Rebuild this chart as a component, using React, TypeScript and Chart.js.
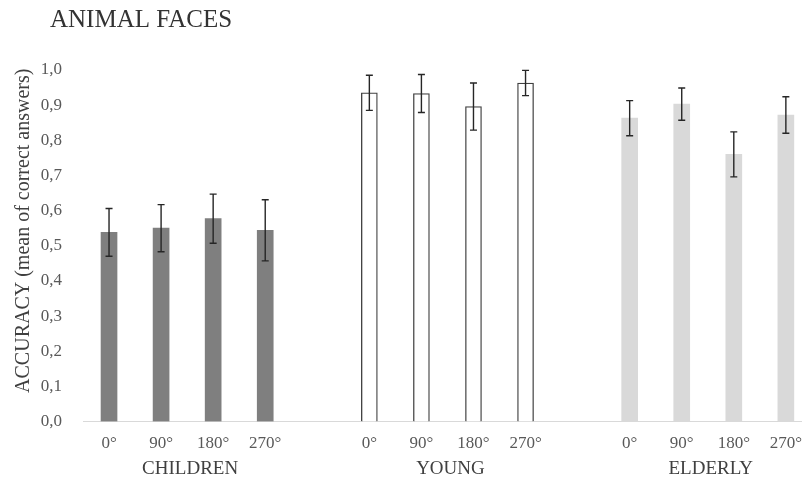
import React, { useEffect, useRef } from 'react';
import { Chart, registerables } from 'chart.js';

Chart.register(...registerables);

const chartTitle = 'ANIMAL FACES';
const yAxisTitle = 'ACCURACY (mean of correct answers)';
const angleLabels = ['0°', '90°', '180°', '270°'];
const groupLabels = ['CHILDREN', 'YOUNG', 'ELDERLY'];
// category slots on the x axis (one empty slot separates the groups)
const childrenSlots = [1, 2, 3, 4];
const youngSlots = [6, 7, 8, 9];
const elderlySlots = [11, 12, 13, 14];

const childrenMeans = [0.538, 0.55, 0.577, 0.544];
const childrenErrors = [0.068, 0.067, 0.07, 0.087];
const youngMeans = [0.935, 0.933, 0.896, 0.963];
const youngErrors = [0.05, 0.054, 0.067, 0.036];
const elderlyMeans = [0.863, 0.903, 0.76, 0.872];
const elderlyErrors = [0.05, 0.046, 0.064, 0.052];

const yMin = 0;
const yMax = 1.0;
const yStep = 0.1;

const SERIF = '"Liberation Serif", "Times New Roman", serif';

const allSlots = [...childrenSlots, ...youngSlots, ...elderlySlots];
const slotLabel = new Map<number, string>();
[childrenSlots, youngSlots, elderlySlots].forEach((slots) =>
  slots.forEach((s, i) => slotLabel.set(s, angleLabels[i]))
);
const groupSlots = [childrenSlots, youngSlots, elderlySlots];

const toPoints = (slots: number[], vals: number[]) =>
  slots.map((s, i) => ({ x: s, y: vals[i] }));

const errorBarPlugin = {
  id: 'errorBars',
  afterDatasetsDraw(chart: any) {
    const ctx = chart.ctx;
    const yScale = chart.scales.y;
    chart.data.datasets.forEach((ds: any, di: number) => {
      const meta = chart.getDatasetMeta(di);
      meta.data.forEach((bar: any, i: number) => {
        const v = ds.data[i].y;
        const e = ds.errors[i];
        const yt = yScale.getPixelForValue(v + e);
        const yb = yScale.getPixelForValue(v - e);
        const x = bar.x;
        ctx.save();
        ctx.strokeStyle = '#262626';
        ctx.lineWidth = 1.4;
        ctx.beginPath();
        ctx.moveTo(x, yt);
        ctx.lineTo(x, yb);
        ctx.moveTo(x - 3.5, yt);
        ctx.lineTo(x + 3.5, yt);
        ctx.moveTo(x - 3.5, yb);
        ctx.lineTo(x + 3.5, yb);
        ctx.stroke();
        ctx.restore();
      });
    });
  },
};

const textPlugin = {
  id: 'extraText',
  afterDraw(chart: any) {
    const ctx = chart.ctx;
    const area = chart.chartArea;
    const xScale = chart.scales.x;
    ctx.save();
    // main title
    ctx.font = `25px ${SERIF}`;
    ctx.fillStyle = '#333333';
    ctx.textAlign = 'left';
    ctx.textBaseline = 'alphabetic';
    ctx.fillText(chartTitle, 50, 27);
    // y axis title
    ctx.save();
    ctx.translate(24, (area.top + area.bottom) / 2 - 15);
    ctx.rotate(-Math.PI / 2);
    ctx.font = `20px ${SERIF}`;
    ctx.fillStyle = '#404040';
    ctx.textAlign = 'center';
    ctx.textBaseline = 'middle';
    ctx.fillText(yAxisTitle, 0, 0);
    ctx.restore();
    // group labels
    ctx.font = `19px ${SERIF}`;
    ctx.fillStyle = '#404040';
    ctx.textAlign = 'center';
    ctx.textBaseline = 'middle';
    groupLabels.forEach((g, gi) => {
      const slots = groupSlots[gi];
      const mid = slots.reduce((a, b) => a + b, 0) / slots.length;
      ctx.fillText(g, xScale.getPixelForValue(mid) + 3, area.bottom + 48);
    });
    ctx.restore();
  },
};

export default function App() {
  const canvasRef = useRef<HTMLCanvasElement | null>(null);

  useEffect(() => {
    if (!canvasRef.current) return;
    const chart = new Chart(canvasRef.current, {
      type: 'bar',
      data: {
        datasets: [
          {
            label: 'CHILDREN',
            data: toPoints(childrenSlots, childrenMeans),
            errors: childrenErrors,
            backgroundColor: '#7f7f7f',
            borderWidth: 0,
          } as any,
          {
            label: 'YOUNG',
            data: toPoints(youngSlots, youngMeans),
            errors: youngErrors,
            backgroundColor: '#ffffff',
            borderColor: '#404040',
            borderWidth: 1.3,
          } as any,
          {
            label: 'ELDERLY',
            data: toPoints(elderlySlots, elderlyMeans),
            errors: elderlyErrors,
            backgroundColor: '#d9d9d9',
            borderWidth: 0,
          } as any,
        ],
      },
      options: {
        responsive: false,
        animation: false,
        events: [],
        layout: { padding: { top: 70, left: 8, right: 0, bottom: 0 } },
        datasets: { bar: { barThickness: 16, grouped: false } } as any,
        plugins: {
          legend: { display: false },
          title: { display: false },
          tooltip: { enabled: false },
        },
        scales: {
          x: {
            type: 'linear',
            min: 0.5,
            max: 14.31,
            offset: false,
            grid: { display: false },
            border: { display: true, color: '#d9d9d9', width: 1 },
            afterBuildTicks: (scale: any) => {
              scale.ticks = allSlots.map((v) => ({ value: v }));
            },
            afterFit: (scale: any) => {
              scale.height = 57.5;
              scale.paddingLeft = 0;
              scale.paddingRight = 0;
            },
            ticks: {
              autoSkip: false,
              maxRotation: 0,
              padding: 4,
              color: '#595959',
              font: { family: SERIF, size: 17 },
              callback: (v: any) => slotLabel.get(Number(v)) ?? '',
            },
          } as any,
          y: {
            min: yMin,
            max: yMax,
            grid: { display: false },
            border: { display: false },
            afterFit: (scale: any) => {
              scale.width = 75;
            },
            ticks: {
              stepSize: yStep,
              padding: 13,
              color: '#595959',
              font: { family: SERIF, size: 17 },
              callback: (v: any) => Number(v).toFixed(1).replace('.', ','),
            },
          },
        },
      },
      plugins: [errorBarPlugin, textPlugin],
    } as any);
    return () => chart.destroy();
  }, []);

  return (
    <div style={{ position: 'absolute', left: 0, top: 0, width: 802, height: 479, background: '#ffffff' }}>
      <canvas ref={canvasRef} width={802} height={479} style={{ display: 'block' }} />
    </div>
  );
}
